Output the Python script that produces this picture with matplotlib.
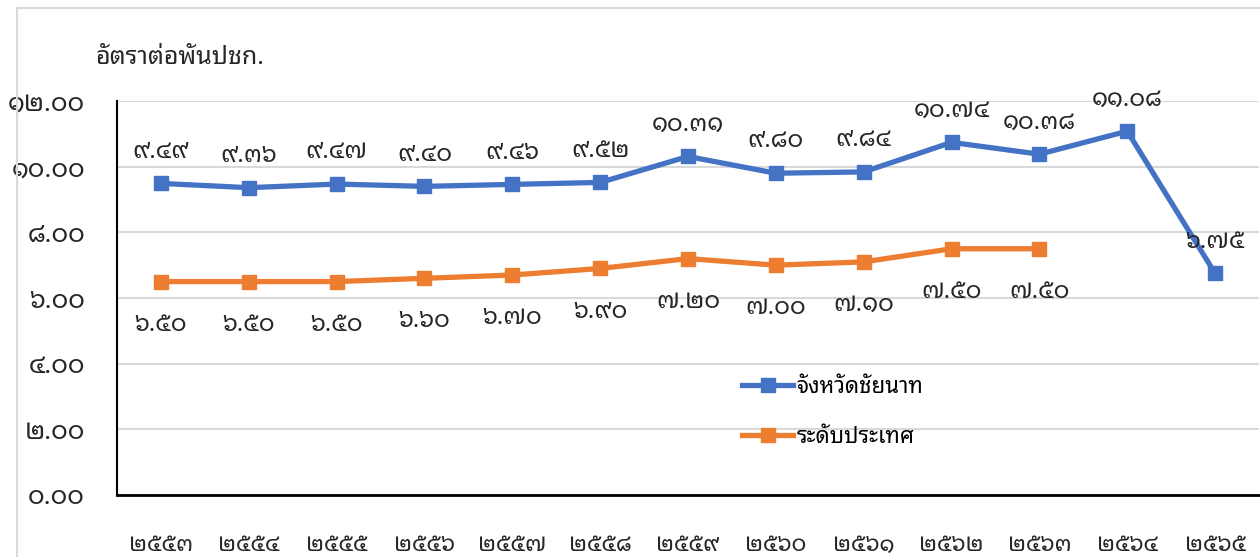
import matplotlib
matplotlib.use("Agg")
import matplotlib.pyplot as plt
from matplotlib import font_manager
from matplotlib.patches import Rectangle

years = ["2553", "2554", "2555", "2556", "2557", "2558", "2559", "2560",
         "2561", "2562", "2563", "2564", "2565"]
chainat = [9.49, 9.36, 9.47, 9.40, 9.46, 9.52, 10.31, 9.80, 9.84, 10.74, 10.38, 11.08, 6.75]
national = [6.50, 6.50, 6.50, 6.60, 6.70, 6.90, 7.20, 7.00, 7.10, 7.50, 7.50]
series_names = ["จังหวัดชัยนาท", "ระดับประเทศ"]
y_title = "อัตราต่อพันปชก."
y_ticks = [0, 2, 4, 6, 8, 10, 12]

THAI = str.maketrans("0123456789", "๐๑๒๓๔๕๖๗๘๙")


def th(s):
    return str(s).translate(THAI)


# find a font with Thai coverage
thai_family = None
try:
    from fontTools.ttLib import TTFont
    prefs = []
    for f in font_manager.fontManager.ttflist:
        try:
            tt = TTFont(f.fname, fontNumber=0, lazy=True)
            cmap = tt.getBestCmap()
            if cmap and 0x0E01 in cmap and 0x0E51 in cmap:
                prefs.append(f.name)
        except Exception:
            pass
    order = ["Noto Sans Thai Looped", "Noto Sans Thai", "Noto Serif Thai", "Loma", "Garuda",
             "Tlwg Typo", "Norasi", "Sarabun"]
    for o in order:
        if o in prefs:
            thai_family = o
            break
    if thai_family is None and prefs:
        thai_family = prefs[0]
except Exception:
    pass

fams = ([thai_family] if thai_family else []) + ["DejaVu Sans"]
plt.rcParams["font.family"] = fams
plt.rcParams["font.weight"] = "light"

W, H = 1260, 557
fig = plt.figure(figsize=(W / 100, H / 100), dpi=100)

# outer chart border
fig.patches.append(Rectangle((17 / W, -0.1), 1.2, (H - 8) / H + 0.1, transform=fig.transFigure,
                             fill=False, edgecolor="#D9D9D9", linewidth=1.5))

ax = fig.add_axes([117 / W, (H - 495) / H, 1142 / W, 394 / H])
x = list(range(len(years)))
blue = "#4472C4"
orange = "#ED7D31"
ax.plot(x, chainat, color=blue, lw=3.8, marker="s", ms=10.5, label=series_names[0], zorder=3)
ax.plot(x[:len(national)], national, color=orange, lw=3.8, marker="s", ms=10.5,
        label=series_names[1], zorder=3)

TXT = "#262626"
for xi, v in zip(x, chainat):
    ax.annotate(th(f"{v:.2f}"), (xi, v), xytext=(0, 23), textcoords="offset points",
                ha="center", va="center", fontsize=17.5, color=TXT, fontweight="light")
for xi, v in zip(x, national):
    ax.annotate(th(f"{v:.2f}"), (xi, v), xytext=(0, -31), textcoords="offset points",
                ha="center", va="center", fontsize=17.5, color=TXT, fontweight="light")

ax.set_xlim(-0.5, len(years) - 0.5)
ax.set_ylim(0, 12)
ax.set_yticks(y_ticks)
ax.set_yticklabels([th(f"{t:.2f}") for t in y_ticks], fontsize=18.5, color=TXT, fontweight="light")
ax.set_xticks(x)
ax.set_xticklabels([th(y) for y in years], fontsize=16.5, color=TXT, fontweight="light")
ax.tick_params(axis="x", length=0, pad=27)
ax.tick_params(axis="y", length=0, pad=23)
ax.grid(axis="y", color="#D9D9D9", lw=1.5)
ax.set_axisbelow(True)
for s in ["top", "right"]:
    ax.spines[s].set_visible(False)
ax.spines["left"].set_linewidth(1.5)
ax.spines["bottom"].set_linewidth(2)

fig.text(95 / W, 1 - 57 / H, y_title, fontsize=18, va="center", ha="left", color=TXT,
         fontweight="light")

leg = ax.legend(loc="upper left", bbox_to_anchor=(0.53, 0.35), frameon=False,
                prop={"size": 16, "weight": "light"},
                handlelength=2.3, labelspacing=1.3, handletextpad=0.15)

fig.savefig("out.png", dpi=100)
